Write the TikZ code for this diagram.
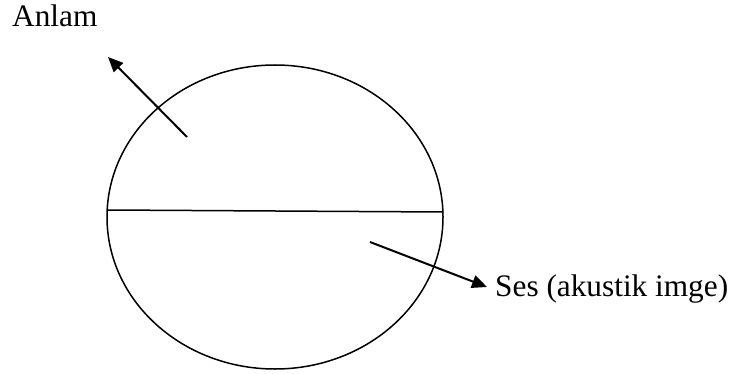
\documentclass[tikz,border=0pt]{standalone}
\usepackage{fontspec}
\setmainfont{Liberation Serif}
\usetikzlibrary{arrows.meta,shapes.geometric}

\begin{document}
\begin{tikzpicture}[x=1pt,y=-1pt,font=\fontsize{31.3}{36}\selectfont,>={Triangle[length=15pt,width=13pt]},
  lbl/.style={anchor=base west,inner sep=0pt},
  sign/.style={draw,ellipse,line width=1.5pt,minimum width=336pt,minimum height=304pt,inner sep=0pt},
  arr/.style={->,line width=2pt}]
\useasboundingbox (0,0) rectangle (730,374);
\node[sign] (gst) at (275,217) {};
\node[lbl] (anlam) at (12,27) {Anlam};
\node[lbl] (ses) at (495,296) {Ses (akustik imge)};
\coordinate (bl) at (108,210);
\coordinate (br) at (443,212);
\draw[line width=1.5pt] (bl)--(br);
\coordinate (a1) at (187,137);\coordinate (a2) at (108,57);
\coordinate (s1) at (370,242);\coordinate (s2) at (487,287);
\draw[arr](a1)--(a2);
\draw[arr](s1)--(s2);
\end{tikzpicture}
\end{document}
